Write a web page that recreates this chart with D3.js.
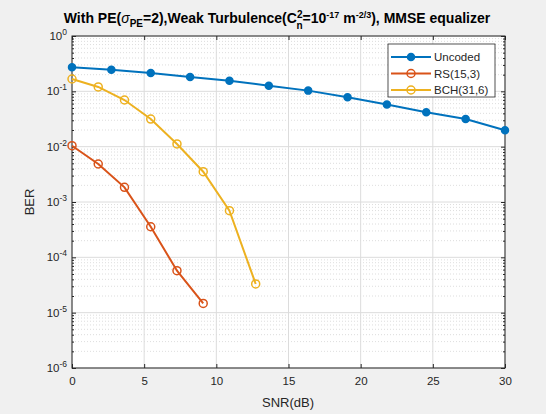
<!DOCTYPE html>
<html><head><meta charset="utf-8">
<script src="https://cdn.jsdelivr.net/npm/d3@7"></script>
<style>
body{margin:0;background:#f0f0f0;}
svg{display:block;font-family:"Liberation Sans",Arial,sans-serif;}
</style></head>
<body><svg id="c" width="546" height="414"></svg>
<script>
const snrUncoded = [0, 2.727, 5.455, 8.182, 10.909, 13.636, 16.364, 19.091, 21.818, 24.545, 27.273, 30];
const berUncoded = [0.272, 0.246, 0.214, 0.182, 0.156, 0.126, 0.103, 0.078, 0.058, 0.042, 0.0316, 0.0198];
const snrRS = [0, 1.818, 3.636, 5.455, 7.273, 9.091];
const berRS = [0.0104, 0.00486, 0.00184, 3.57e-4, 5.73e-5, 1.47e-5];
const snrBCH = [0, 1.818, 3.636, 5.455, 7.273, 9.091, 10.909, 12.727];
const berBCH = [0.167, 0.12, 0.0697, 0.0316, 0.0112, 0.00353, 6.96e-4, 3.3e-5];
const xTicks = [0, 5, 10, 15, 20, 25, 30];
const yExps = [0, -1, -2, -3, -4, -5, -6];
const seriesNames = ["Uncoded", "RS(15,3)", "BCH(31,6)"];
const colors = ["#0072BD", "#D95319", "#EDB120"];

const svg = d3.select("#c");
const L = 72, R = 505, T = 36, B = 368;
const x = d3.scaleLinear().domain([0, 30]).range([L, R]);
const y = d3.scaleLog().domain([1e-6, 1]).range([B, T]);
const axc = "#262626";

svg.append("rect").attr("x", L).attr("y", T).attr("width", R - L).attr("height", B - T).attr("fill", "#fff");

// minor grid
const minor = [];
for (let e = -6; e < 0; e++) for (let m = 2; m <= 9; m++) minor.push(m * Math.pow(10, e));
const g = svg.append("g");
g.selectAll(".mg").data(minor).enter().append("line")
  .attr("x1", L).attr("x2", R).attr("y1", d => y(d)).attr("y2", d => y(d))
  .attr("stroke", "#d4d4d4").attr("stroke-width", 0.8).attr("stroke-dasharray", "1,2");
// major grid
g.selectAll(".gy").data(yExps.map(e => Math.pow(10, e))).enter().append("line")
  .attr("x1", L).attr("x2", R).attr("y1", d => y(d)).attr("y2", d => y(d))
  .attr("stroke", "#dcdcdc").attr("stroke-width", 1);
g.selectAll(".gx").data(xTicks).enter().append("line")
  .attr("y1", T).attr("y2", B).attr("x1", d => x(d)).attr("x2", d => x(d))
  .attr("stroke", "#dcdcdc").attr("stroke-width", 1);

// axes with d3
const xAxB = d3.axisBottom(x).tickValues(xTicks).tickSizeInner(-4).tickSizeOuter(0).tickPadding(9);
const xAxT = d3.axisTop(x).tickValues(xTicks).tickSizeInner(-4).tickSizeOuter(0).tickFormat("");
const yAxL = d3.axisLeft(y).tickValues(yExps.map(e => Math.pow(10, e))).tickSizeInner(-4).tickSizeOuter(0).tickFormat("");
const yAxR = d3.axisRight(y).tickValues(yExps.map(e => Math.pow(10, e))).tickSizeInner(-4).tickSizeOuter(0).tickFormat("");
const yMinL = d3.axisLeft(y).tickValues(minor).tickSizeInner(-2).tickSizeOuter(0).tickFormat("");
const yMinR = d3.axisRight(y).tickValues(minor).tickSizeInner(-2).tickSizeOuter(0).tickFormat("");

function style(sel) {
  sel.selectAll("path").remove();
  sel.selectAll("line").attr("stroke", axc);
  sel.selectAll("text").attr("fill", axc).attr("font-size", 11.5).attr("font-family", "Liberation Sans, Arial, sans-serif");
}
svg.append("g").attr("transform", `translate(0,${B})`).call(xAxB).call(style);
svg.append("g").attr("transform", `translate(0,${T})`).call(xAxT).call(style);
svg.append("g").attr("transform", `translate(${L},0)`).call(yAxL).call(style);
svg.append("g").attr("transform", `translate(${R},0)`).call(yAxR).call(style);
svg.append("g").attr("transform", `translate(${L},0)`).call(yMinL).call(style);
svg.append("g").attr("transform", `translate(${R},0)`).call(yMinR).call(style);

// y tick labels with superscripts
const yl = svg.append("g");
yExps.forEach(e => {
  const t = yl.append("text").attr("x", L - 5).attr("y", y(Math.pow(10, e)) + 4)
    .attr("text-anchor", "end").attr("fill", axc).attr("font-size", 11.5);
  t.append("tspan").text("10");
  t.append("tspan").attr("dy", -5).attr("font-size", 8.5).text(String(e));
});

// box
svg.append("rect").attr("x", L).attr("y", T).attr("width", R - L).attr("height", B - T)
  .attr("fill", "none").attr("stroke", axc).attr("stroke-width", 1);

// labels
svg.append("text").attr("x", 288).attr("y", 407).attr("text-anchor", "middle")
  .attr("fill", axc).attr("font-size", 13).text("SNR(dB)");
svg.append("text").attr("transform", `translate(34,${(T + B) / 2}) rotate(-90)`).attr("text-anchor", "middle")
  .attr("fill", axc).attr("font-size", 13).text("BER");

// title
const tt = svg.append("text").attr("x", 277).attr("y", 23).attr("text-anchor", "middle")
  .attr("font-size", 14).attr("font-weight", "bold").attr("fill", "#000");
tt.append("tspan").text("With PE(");
tt.append("tspan").attr("font-style", "italic").attr("font-weight", "normal").text("σ");
tt.append("tspan").attr("dy", 4).attr("font-size", 10).text("PE");
tt.append("tspan").attr("dy", -4).text("=2),Weak Turbulence(C");
tt.append("tspan").attr("dy", -5).attr("font-size", 10).text("2");
tt.append("tspan").attr("dx", -6).attr("dy", 11).attr("font-size", 10).text("n");
tt.append("tspan").attr("dy", -6).text("=10");
tt.append("tspan").attr("dy", -5).attr("font-size", 9).text("-17");
tt.append("tspan").attr("dy", 5).text(" m");
tt.append("tspan").attr("dy", -5).attr("font-size", 9).text("-2/3");
tt.append("tspan").attr("dy", 5).text("), MMSE equalizer");

// series
const data = [
  snrUncoded.map((s, i) => [s, berUncoded[i]]),
  snrRS.map((s, i) => [s, berRS[i]]),
  snrBCH.map((s, i) => [s, berBCH[i]])
];
const line = d3.line().x(d => x(d[0])).y(d => y(d[1]));
data.forEach((d, k) => {
  svg.append("path").datum(d).attr("d", line).attr("fill", "none")
    .attr("stroke", colors[k]).attr("stroke-width", 2);
  svg.selectAll(".m" + k).data(d).enter().append("circle")
    .attr("cx", p => x(p[0])).attr("cy", p => y(p[1]))
    .attr("r", k === 0 ? 3.5 : 4)
    .attr("fill", k === 0 ? colors[k] : "none")
    .attr("stroke", colors[k]).attr("stroke-width", 1.5);
});

// legend
const lg = svg.append("g");
lg.append("rect").attr("x", 388).attr("y", 44).attr("width", 107).attr("height", 53)
  .attr("fill", "#fff").attr("stroke", axc).attr("stroke-width", 0.8);
seriesNames.forEach((n, k) => {
  const yy = 57 + k * 16.5;
  lg.append("line").attr("x1", 391).attr("x2", 431).attr("y1", yy).attr("y2", yy)
    .attr("stroke", colors[k]).attr("stroke-width", 2);
  lg.append("circle").attr("cx", 411).attr("cy", yy).attr("r", k === 0 ? 3.5 : 4)
    .attr("fill", k === 0 ? colors[k] : "none").attr("stroke", colors[k]).attr("stroke-width", 1.5);
  lg.append("text").attr("x", 434).attr("y", yy + 4).attr("font-size", 11.5).attr("fill", axc).text(n);
});
</script></body></html>
